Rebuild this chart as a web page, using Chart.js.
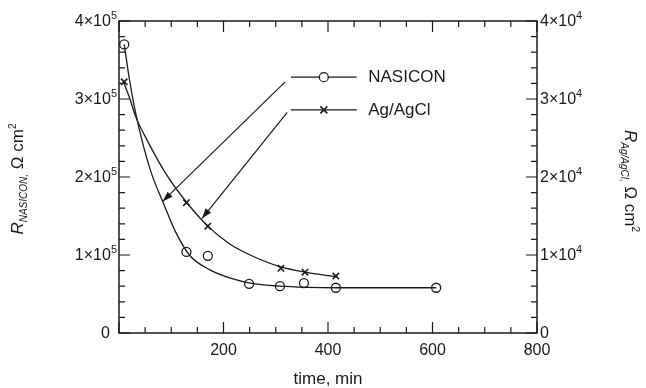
<!DOCTYPE html>
<html>
<head>
<meta charset="utf-8">
<script src="https://cdn.jsdelivr.net/npm/chart.js@4.4.1/dist/chart.umd.min.js"></script>
<style>
  html, body { margin: 0; padding: 0; background: #fff; }
  #wrap { width: 646px; height: 388px; }
</style>
</head>
<body>
<div id="wrap"><canvas id="chart" width="646" height="388"></canvas></div>
<script>
// measured points (time in min)
const nasiconTime = [10, 129, 170, 249, 308, 354, 415, 607];
const nasiconR = [370000, 104000, 99000, 63000, 60000, 64000, 58000, 58000];
const agTime = [10, 129, 170, 310, 356, 415];
const agR = [32200, 16700, 13700, 8300, 7800, 7300];

// fitted curves
const nasiconFitTime = [10, 20, 30, 44, 62, 84, 108, 136, 174, 215, 251, 308, 360, 415, 607];
const nasiconFitR = [370000, 325000, 288000, 247000, 205000, 168000, 130000, 99000, 81000, 70000, 64000, 60000, 58500, 58000, 58000];
const agFitTime = [8, 21, 31, 54, 90, 130, 170, 212, 251, 308, 356, 417];
const agFitR = [32300, 30000, 27900, 24700, 20400, 16700, 13700, 11400, 10000, 8500, 7800, 7200];

// tick labels (mantissa part, exponent drawn raised)
const xLabels = ["", "200", "400", "600", "800"];
const leftLabels = ["0", "1×10", "2×10", "3×10", "4×10"];
const leftExp = "5";
const rightLabels = ["0", "1×10", "2×10", "3×10", "4×10"];
const rightExp = "4";

const ink = "#1a1a1a";
const family = "'Liberation Sans', Arial, Helvetica, sans-serif";

// legend + arrows, placed in data units (x: min, y: left axis)
const notes = {
  lineFrom: 329, marker: 392, lineTo: 455, text: 477,
  rows: [
    { label: "NASICON", y: 328000, style: "circle" },
    { label: "Ag/AgCl", y: 286000, style: "crossRot" },
  ],
  arrows: [
    { from: [318, 322000], to: [84, 169000] },
    { from: [322, 283000], to: [159, 147000] },
  ],
};

const pts = (xs, ys) => xs.map((x, i) => ({ x, y: ys[i] }));

function measure(ctx, parts) {
  let total = 0;
  parts.forEach((p) => {
    ctx.font = p.f;
    p.w = ctx.measureText(p.t).width;
    total += p.w;
  });
  return total;
}

function drawParts(ctx, parts, x, y) {
  parts.forEach((p) => {
    ctx.font = p.f;
    ctx.fillText(p.t, x, y + (p.dy || 0));
    x += p.w;
  });
}

function drawRich(ctx, parts, cx, cy, angle) {
  ctx.save();
  ctx.translate(cx, cy);
  ctx.rotate(angle);
  ctx.fillStyle = ink;
  ctx.textBaseline = "alphabetic";
  const total = measure(ctx, parts);
  drawParts(ctx, parts, -total / 2, 6);
  ctx.restore();
}

const decorPlugin = {
  id: "decor",
  afterDraw(chart) {
    const { ctx, chartArea: a, scales } = chart;
    const sx = scales.x, sy = scales.y, sy2 = scales.y2;
    ctx.save();
    ctx.strokeStyle = ink;
    ctx.lineWidth = 1.5;
    ctx.strokeRect(a.left, a.top, a.right - a.left, a.bottom - a.top);

    // inward ticks
    ctx.lineWidth = 1.2;
    ctx.beginPath();
    for (let v = 0; v <= 800; v += 50) {
      const px = sx.getPixelForValue(v);
      const len = v % 200 === 0 ? 11 : 6;
      ctx.moveTo(px, a.bottom); ctx.lineTo(px, a.bottom - len);
      ctx.moveTo(px, a.top); ctx.lineTo(px, a.top + len);
    }
    for (let v = 0; v <= 400000; v += 20000) {
      const py = sy.getPixelForValue(v);
      const len = v % 100000 === 0 ? 11 : 6;
      ctx.moveTo(a.left, py); ctx.lineTo(a.left + len, py);
    }
    for (let v = 0; v <= 40000; v += 2000) {
      const py = sy2.getPixelForValue(v);
      const len = v % 10000 === 0 ? 11 : 6;
      ctx.moveTo(a.right, py); ctx.lineTo(a.right - len, py);
    }
    ctx.stroke();

    // tick labels
    const tf = "16px " + family, ef = "11px " + family;
    ctx.fillStyle = ink;
    ctx.textBaseline = "middle";
    ctx.textAlign = "center";
    ctx.font = tf;
    xLabels.forEach((t, i) => {
      if (t) ctx.fillText(t, sx.getPixelForValue(i * 200), a.bottom + 18);
    });
    ctx.textAlign = "left";
    leftLabels.forEach((t, i) => {
      const py = sy.getPixelForValue(i * 100000);
      const parts = i === 0 ? [{ t, f: tf }] : [{ t, f: tf }, { t: leftExp, f: ef, dy: -6 }];
      const w = measure(ctx, parts);
      drawParts(ctx, parts, a.left - (i === 0 ? 9 : 2) - w, py + 1);
    });
    rightLabels.forEach((t, i) => {
      const py = sy2.getPixelForValue(i * 10000);
      const parts = i === 0 ? [{ t, f: tf }] : [{ t, f: tf }, { t: rightExp, f: ef, dy: -6 }];
      measure(ctx, parts);
      drawParts(ctx, parts, a.right + 3, py + 1);
    });

    // legend
    ctx.lineWidth = 1.2;
    ctx.font = "17px " + family;
    ctx.textBaseline = "middle";
    notes.rows.forEach((r) => {
      const py = sy.getPixelForValue(r.y);
      ctx.beginPath();
      ctx.moveTo(sx.getPixelForValue(notes.lineFrom), py);
      ctx.lineTo(sx.getPixelForValue(notes.lineTo), py);
      ctx.stroke();
      const mx = sx.getPixelForValue(notes.marker);
      if (r.style === "circle") {
        ctx.fillStyle = "#fff";
        ctx.beginPath(); ctx.arc(mx, py, 4.5, 0, Math.PI * 2); ctx.fill(); ctx.stroke();
        ctx.fillStyle = ink;
      } else {
        ctx.lineWidth = 1.6;
        ctx.beginPath();
        ctx.moveTo(mx - 3.5, py - 3.5); ctx.lineTo(mx + 3.5, py + 3.5);
        ctx.moveTo(mx - 3.5, py + 3.5); ctx.lineTo(mx + 3.5, py - 3.5);
        ctx.stroke();
        ctx.lineWidth = 1.2;
      }
      ctx.fillText(r.label, sx.getPixelForValue(notes.text), py);
    });

    // arrows
    notes.arrows.forEach((ar) => {
      const x0 = sx.getPixelForValue(ar.from[0]), y0 = sy.getPixelForValue(ar.from[1]);
      const x1 = sx.getPixelForValue(ar.to[0]), y1 = sy.getPixelForValue(ar.to[1]);
      const ang = Math.atan2(y1 - y0, x1 - x0);
      ctx.beginPath();
      ctx.moveTo(x0, y0); ctx.lineTo(x1, y1);
      ctx.stroke();
      ctx.beginPath();
      ctx.moveTo(x1, y1);
      ctx.lineTo(x1 - 10 * Math.cos(ang) + 3.5 * Math.sin(ang), y1 - 10 * Math.sin(ang) - 3.5 * Math.cos(ang));
      ctx.lineTo(x1 - 10 * Math.cos(ang) - 3.5 * Math.sin(ang), y1 - 10 * Math.sin(ang) + 3.5 * Math.cos(ang));
      ctx.closePath();
      ctx.fill();
    });
    ctx.restore();

    // axis titles
    const big = "17px " + family, bigIt = "italic 17px " + family;
    const sub = "italic 10px " + family, sup = "10px " + family;
    drawRich(ctx, [
      { t: "R", f: bigIt }, { t: "NASICON,", f: sub, dy: 4 },
      { t: " Ω cm", f: big }, { t: "2", f: sup, dy: -7 },
    ], 17, 179, -Math.PI / 2);
    drawRich(ctx, [
      { t: "R", f: bigIt }, { t: "Ag/AgCl,", f: sub, dy: 4 },
      { t: " Ω cm", f: big }, { t: "2", f: sup, dy: -7 },
    ], 631, 181, Math.PI / 2);
    ctx.save();
    ctx.font = big;
    ctx.fillStyle = ink;
    ctx.textAlign = "center";
    ctx.textBaseline = "middle";
    ctx.fillText("time, min", (a.left + a.right) / 2, 379);
    ctx.restore();
  },
};

new Chart(document.getElementById("chart"), {
  type: "scatter",
  data: {
    datasets: [
      {
        label: "NASICON fit", data: pts(nasiconFitTime, nasiconFitR), yAxisID: "y",
        showLine: true, borderColor: ink, borderWidth: 1.3, pointRadius: 0,
        cubicInterpolationMode: "monotone",
      },
      {
        label: "Ag/AgCl fit", data: pts(agFitTime, agFitR), yAxisID: "y2",
        showLine: true, borderColor: ink, borderWidth: 1.3, pointRadius: 0,
        cubicInterpolationMode: "monotone",
      },
      {
        label: "NASICON", data: pts(nasiconTime, nasiconR), yAxisID: "y",
        pointStyle: "circle", pointRadius: 4.5, borderColor: ink,
        backgroundColor: "rgba(255,255,255,0)", pointBorderWidth: 1.3,
      },
      {
        label: "Ag/AgCl", data: pts(agTime, agR), yAxisID: "y2",
        pointStyle: "crossRot", pointRadius: 4.5, borderColor: ink, pointBorderWidth: 1.6,
      },
    ],
  },
  options: {
    responsive: false,
    animation: false,
    devicePixelRatio: 1,
    layout: { padding: { top: 21, left: 0, right: 0, bottom: 0 } },
    plugins: { legend: { display: false }, tooltip: { enabled: false } },
    scales: {
      x: {
        type: "linear", min: 0, max: 800,
        grid: { display: false }, border: { display: false },
        ticks: { display: false, stepSize: 200 },
        afterFit: (s) => { s.height = 55; },
      },
      y: {
        position: "left", min: 0, max: 400000,
        grid: { display: false }, border: { display: false },
        ticks: { display: false, stepSize: 100000 },
        afterFit: (s) => { s.width = 119; },
      },
      y2: {
        position: "right", min: 0, max: 40000,
        grid: { display: false }, border: { display: false },
        ticks: { display: false, stepSize: 10000 },
        afterFit: (s) => { s.width = 109; },
      },
    },
  },
  plugins: [decorPlugin],
});
</script>
</body>
</html>
